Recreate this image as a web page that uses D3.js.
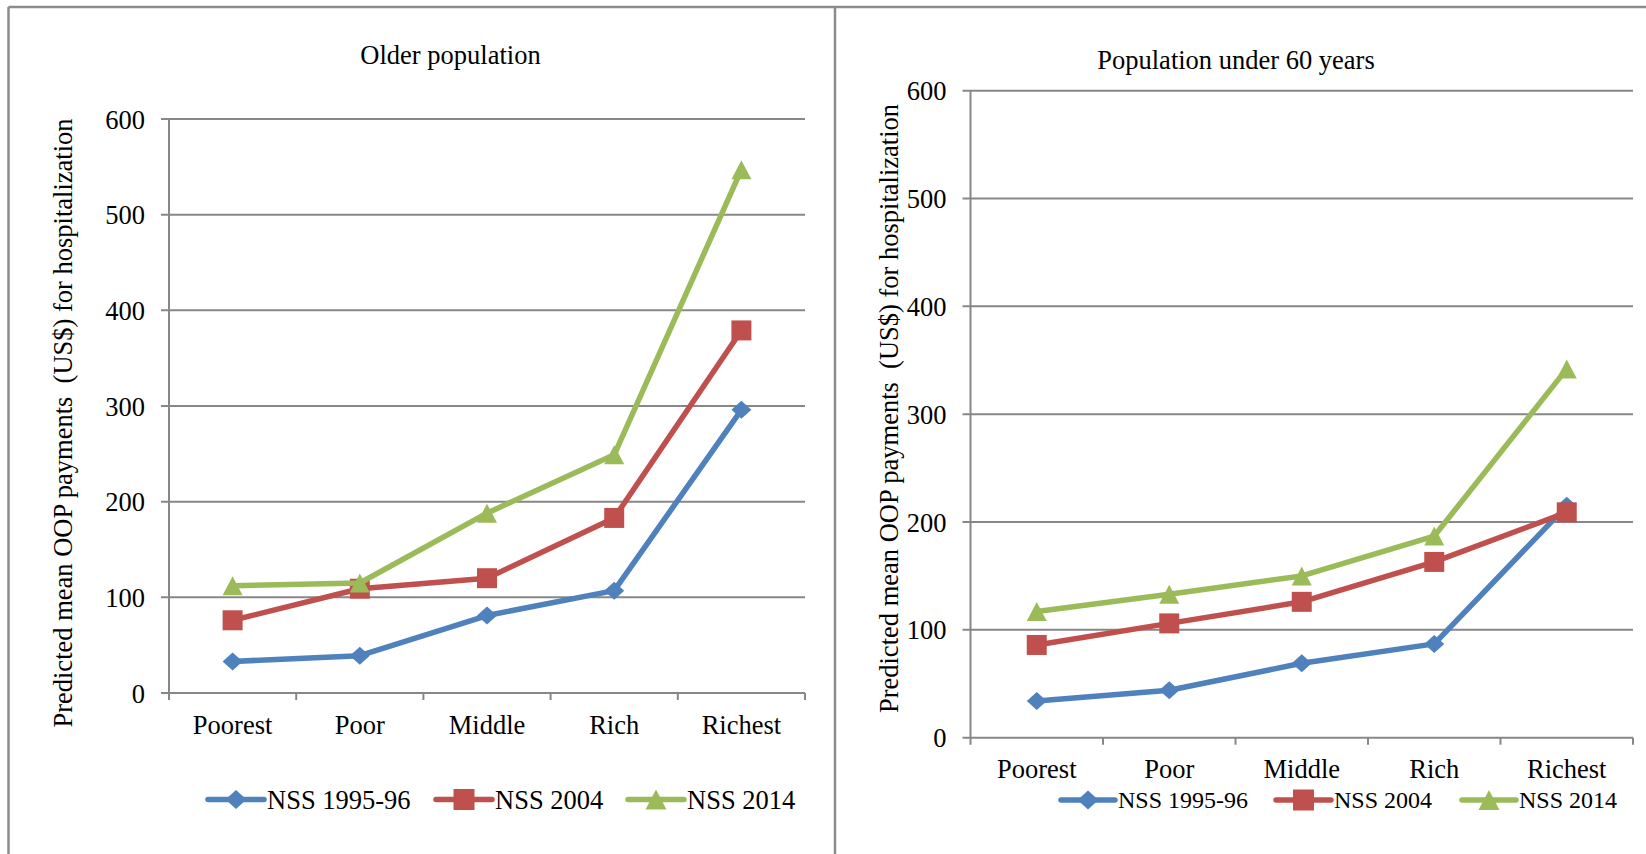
<!DOCTYPE html>
<html>
<head>
<meta charset="utf-8">
<script src="https://cdn.jsdelivr.net/npm/d3@7"></script>
<style>
  html, body { margin: 0; padding: 0; background: #fff; }
  svg { display: block; }
  text { font-family: "Liberation Serif", "Tinos", "Times New Roman", "DejaVu Serif", serif; fill: #000; white-space: pre; }
</style>
</head>
<body>
<svg id="chart" width="1646" height="854"></svg>
<script>
// Wealth quintiles shared by both panels
const categories = ["Poorest", "Poor", "Middle", "Rich", "Richest"];
const seriesNames = ["NSS 1995-96", "NSS 2004", "NSS 2014"];
const yTicks = [0, 100, 200, 300, 400, 500, 600];

// Older population: predicted mean OOP payments (US$)
const olderNSS1995 = [33, 39, 81, 107, 296];
const olderNSS2004 = [76, 109, 120, 183, 379];
const olderNSS2014 = [112, 115, 188, 249, 547];

// Population under 60 years
const youngNSS1995 = [34, 44, 69, 87, 215];
const youngNSS2004 = [86, 106, 126, 163, 209];
const youngNSS2014 = [117, 133, 150, 187, 342];

const colors = ["#4F81BD", "#C0504D", "#9BBB59"];
const markers = ["diamond", "square", "triangle"];
const yLabel = "Predicted mean OOP payments  (US$) for hospitalization";
const gridColor = "#878787";

const svg = d3.select("#chart");
svg.append("rect").attr("width", 1646).attr("height", 854).attr("fill", "#fff");

// Frame lines around the two panels
const frame = svg.append("g").attr("stroke", "#8c8c8c").attr("stroke-width", 2.5);
frame.append("line").attr("x1", 8.5).attr("x2", 1646).attr("y1", 7).attr("y2", 7);
frame.append("line").attr("x1", 8.5).attr("x2", 8.5).attr("y1", 7).attr("y2", 854);
frame.append("line").attr("x1", 835).attr("x2", 835).attr("y1", 7).attr("y2", 854);

function markerPath(type, s) {
  if (type === "diamond") {
    const w = 10 * s, h = 9 * s;
    return `M0,${-h}L${w},0L0,${h}L${-w},0Z`;
  }
  if (type === "square") {
    const a = 10 * s;
    return `M${-a},${-a}H${a}V${a}H${-a}Z`;
  }
  const w = 10 * s, h = 9.5 * s;
  return `M0,${-h}L${w},${h}L${-w},${h}Z`;
}

function drawPanel(cfg) {
  const g = svg.append("g");
  const x = d3.scaleBand().domain(categories).range([cfg.left, cfg.right]);
  const y = d3.scaleLinear().domain([0, 600]).range([cfg.bottom, cfg.top]);

  // horizontal gridlines with left ticks
  g.append("g").selectAll("line").data(yTicks).join("line")
    .attr("x1", cfg.left - 8).attr("x2", cfg.right)
    .attr("y1", d => y(d)).attr("y2", d => y(d))
    .attr("stroke", gridColor).attr("stroke-width", 2);

  // y axis line
  g.append("line").attr("x1", cfg.left).attr("x2", cfg.left)
    .attr("y1", y(600)).attr("y2", cfg.bottom + 7)
    .attr("stroke", gridColor).attr("stroke-width", 2);

  // category boundary ticks below the x axis
  const bounds = categories.map(c => x(c)).concat([cfg.right]);
  g.append("g").selectAll("line").data(bounds.slice(1)).join("line")
    .attr("x1", d => d).attr("x2", d => d)
    .attr("y1", cfg.bottom).attr("y2", cfg.bottom + 7)
    .attr("stroke", gridColor).attr("stroke-width", 2);

  // y tick labels
  g.append("g").selectAll("text").data(yTicks).join("text")
    .attr("x", cfg.left - 24).attr("y", d => y(d)).attr("dy", "0.36em")
    .attr("text-anchor", "end").attr("font-size", 26.5)
    .text(d => d);

  // category labels
  g.append("g").selectAll("text").data(categories).join("text")
    .attr("x", d => x(d) + x.bandwidth() / 2).attr("y", cfg.bottom + 40.5)
    .attr("text-anchor", "middle").attr("font-size", 26.5)
    .text(d => d);

  // panel title
  g.append("text").attr("x", cfg.titleX).attr("y", cfg.titleY)
    .attr("text-anchor", "middle").attr("font-size", 26.5).text(cfg.title);

  // y axis title
  g.append("text")
    .attr("transform", `translate(${cfg.yTitleX},${cfg.yTitleY}) rotate(-90)`)
    .attr("text-anchor", "middle").attr("font-size", 26.5).text(yLabel);

  // series lines and markers
  const line = d3.line()
    .x((d, i) => x(categories[i]) + x.bandwidth() / 2)
    .y(d => y(d));
  cfg.series.forEach((vals, k) => {
    g.append("path").datum(vals).attr("d", line)
      .attr("fill", "none").attr("stroke", colors[k]).attr("stroke-width", 5.5)
      .attr("stroke-linejoin", "round").attr("stroke-linecap", "round");
    g.append("g").selectAll("path").data(vals).join("path")
      .attr("transform", (d, i) => `translate(${x(categories[i]) + x.bandwidth() / 2},${y(d)})`)
      .attr("d", markerPath(markers[k], 1))
      .attr("fill", colors[k]);
  });

  // legend
  const lg = g.append("g");
  cfg.legend.forEach((L, k) => {
    lg.append("line").attr("x1", L.x1).attr("x2", L.x2)
      .attr("y1", cfg.legendY).attr("y2", cfg.legendY)
      .attr("stroke", colors[k]).attr("stroke-width", 5.5).attr("stroke-linecap", "round");
    lg.append("path")
      .attr("transform", `translate(${(L.x1 + L.x2) / 2},${cfg.legendY})`)
      .attr("d", markerPath(markers[k], 1.05)).attr("fill", colors[k]);
    lg.append("text").attr("x", L.x2 + 3).attr("y", cfg.legendY).attr("dy", "0.34em")
      .attr("font-size", cfg.legendFont).text(seriesNames[k]);
  });
}

drawPanel({
  title: "Older population", titleX: 450.5, titleY: 64,
  left: 169, right: 805, top: 119, bottom: 693,
  yTitleX: 72, yTitleY: 423,
  series: [olderNSS1995, olderNSS2004, olderNSS2014],
  legendY: 799.5, legendFont: 26.5,
  legend: [{x1: 208, x2: 264}, {x1: 436, x2: 492}, {x1: 628, x2: 684}]
});

drawPanel({
  title: "Population under 60 years", titleX: 1236, titleY: 68.5,
  left: 970.5, right: 1633, top: 90.7, bottom: 737.7,
  yTitleX: 897.5, yTitleY: 408.5,
  series: [youngNSS1995, youngNSS2004, youngNSS2014],
  legendY: 800, legendFont: 24,
  legend: [{x1: 1061, x2: 1115}, {x1: 1276, x2: 1331}, {x1: 1462, x2: 1516}]
});
</script>
</body>
</html>
